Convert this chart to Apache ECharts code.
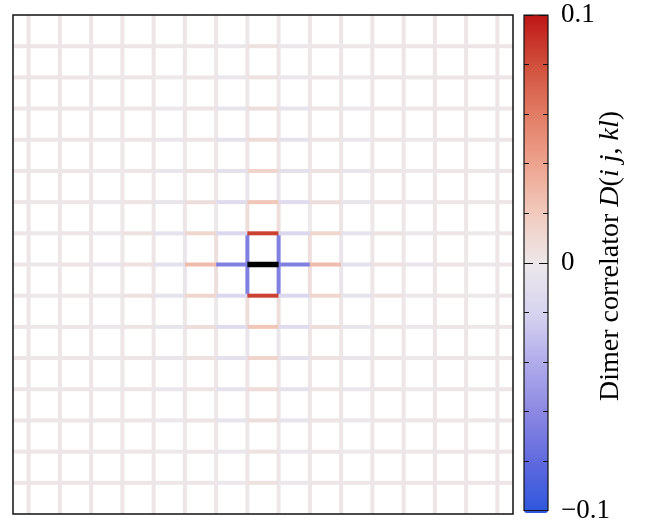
<!DOCTYPE html>
<html><head><meta charset="utf-8">
<script src="https://cdn.jsdelivr.net/npm/echarts@6/dist/echarts.min.js"></script>
<style>html,body{margin:0;padding:0;background:#fff}#c{width:646px;height:524px}</style>
</head><body><div id="c"></div>
<script>
// Horizontal bonds: rows 1..15 (y index), columns 0..15 (bond from site c to c+1, periodic)
const hRows = [1,2,3,4,5,6,7,8,9,10,11,12,13,14,15];
const hBonds = [
  [0.002,0.002,0.002,0.002,0.001,0.002,-0.001,0.004,-0.001,0.002,0.001,0.002,0.002,0.002,0.002,0.002],
  [0.002,0.002,0.001,0.002,0.000,0.002,-0.002,0.004,-0.002,0.002,0.000,0.002,0.001,0.002,0.002,0.002],
  [0.001,0.002,0.001,0.002,-0.001,0.003,-0.004,0.007,-0.004,0.003,-0.001,0.002,0.001,0.002,0.001,0.002],
  [0.001,0.002,0.000,0.002,-0.002,0.003,-0.006,0.009,-0.006,0.003,-0.002,0.002,0.000,0.002,0.001,0.002],
  [0.001,0.002,0.000,0.002,-0.003,0.004,-0.008,0.014,-0.008,0.004,-0.003,0.002,0.000,0.002,0.001,0.002],
  [0.001,0.002,-0.001,0.003,-0.004,0.007,-0.011,0.022,-0.011,0.007,-0.004,0.003,-0.001,0.002,0.001,0.002],
  [0.000,0.002,-0.001,0.004,-0.005,0.012,-0.016,0.085,-0.016,0.012,-0.005,0.004,-0.001,0.002,0.000,0.002],
  [-0.001,0.003,-0.003,0.005,-0.008,0.028,-0.065,null,-0.065,0.028,-0.008,0.005,-0.003,0.003,-0.001,0.002],
  [0.000,0.002,-0.001,0.004,-0.005,0.012,-0.016,0.085,-0.016,0.012,-0.005,0.004,-0.001,0.002,0.000,0.002],
  [0.001,0.002,-0.001,0.003,-0.004,0.007,-0.011,0.022,-0.011,0.007,-0.004,0.003,-0.001,0.002,0.001,0.002],
  [0.001,0.002,0.000,0.002,-0.003,0.004,-0.008,0.014,-0.008,0.004,-0.003,0.002,0.000,0.002,0.001,0.002],
  [0.001,0.002,0.000,0.002,-0.002,0.003,-0.006,0.009,-0.006,0.003,-0.002,0.002,0.000,0.002,0.001,0.002],
  [0.001,0.002,0.001,0.002,-0.001,0.003,-0.004,0.007,-0.004,0.003,-0.001,0.002,0.001,0.002,0.001,0.002],
  [0.002,0.002,0.001,0.002,0.000,0.002,-0.002,0.004,-0.002,0.002,0.000,0.002,0.001,0.002,0.002,0.002],
  [0.002,0.002,0.002,0.002,0.001,0.002,-0.001,0.004,-0.001,0.002,0.001,0.002,0.002,0.002,0.002,0.002]
];
// Vertical bonds: rows 0..15 (bond from row r to r+1), columns 0..15
const vBonds = [
  [0.002,0.002,0.002,0.002,0.002,0.002,0.002,0.001,0.001,0.002,0.002,0.002,0.002,0.002,0.002,0.002],
  [0.002,0.002,0.002,0.002,0.002,0.002,0.001,0.002,0.002,0.001,0.002,0.002,0.002,0.002,0.002,0.002],
  [0.002,0.002,0.002,0.002,0.002,0.001,0.002,0.001,0.001,0.002,0.001,0.002,0.002,0.002,0.002,0.002],
  [0.002,0.002,0.002,0.002,0.001,0.002,0.001,0.002,0.002,0.001,0.002,0.001,0.002,0.002,0.002,0.002],
  [0.002,0.002,0.002,0.001,0.002,0.001,0.002,0.002,0.002,0.002,0.001,0.002,0.001,0.002,0.002,0.002],
  [0.002,0.002,0.002,0.002,0.001,0.001,0.002,-0.003,-0.003,0.002,0.001,0.001,0.002,0.002,0.002,0.002],
  [0.002,0.002,0.002,0.001,0.001,0.002,0.000,0.007,0.007,0.000,0.002,0.001,0.001,0.002,0.002,0.002],
  [0.002,0.001,0.002,0.001,0.002,-0.003,0.006,-0.065,-0.065,0.006,-0.003,0.002,0.001,0.002,0.001,0.002],
  [0.002,0.001,0.002,0.001,0.002,-0.003,0.006,-0.065,-0.065,0.006,-0.003,0.002,0.001,0.002,0.001,0.002],
  [0.002,0.002,0.002,0.001,0.001,0.002,0.000,0.007,0.007,0.000,0.002,0.001,0.001,0.002,0.002,0.002],
  [0.002,0.002,0.002,0.002,0.001,0.001,0.002,-0.003,-0.003,0.002,0.001,0.001,0.002,0.002,0.002,0.002],
  [0.002,0.002,0.002,0.001,0.002,0.001,0.002,0.002,0.002,0.002,0.001,0.002,0.001,0.002,0.002,0.002],
  [0.002,0.002,0.002,0.002,0.001,0.002,0.001,0.002,0.002,0.001,0.002,0.001,0.002,0.002,0.002,0.002],
  [0.002,0.002,0.002,0.002,0.002,0.001,0.002,0.001,0.001,0.002,0.001,0.002,0.002,0.002,0.002,0.002],
  [0.002,0.002,0.002,0.002,0.002,0.002,0.001,0.002,0.002,0.001,0.002,0.002,0.002,0.002,0.002,0.002],
  [0.002,0.002,0.002,0.002,0.002,0.002,0.002,0.001,0.001,0.002,0.002,0.002,0.002,0.002,0.002,0.002]
];
// Reference bond (drawn black): horizontal, row 8, from column 7 to 8
const refBond = [7, 8];
const cbMin = -0.1, cbMax = 0.1;
const cbColors = ['#2d56dc','#5f69de','#8b87e2','#b0abea','#d6d3f0','#ede8ea','#f1cbbf','#eda48f','#e27c65','#d04f3b','#bd1515'];
const cbLabel = 'Dimer correlator ';

const nCols = 16, nRows = 16;
const bondData = [];
vBonds.forEach((row, r) => row.forEach((v, c) => {
  bondData.push([c + 0.5, r, c + 0.5, r + 1, v]);
}));
hBonds.forEach((row, i) => row.forEach((v, c) => {
  if (v === null) return;
  const r = hRows[i];
  bondData.push([c + 0.5, r, c + 1.5, r, v]);
  if (c === nCols - 1) bondData.push([-0.5, r, 0.5, r, v]);
}));
const refData = [[refBond[0] + 0.5, refBond[1], refBond[0] + 1.5, refBond[1], 0]];

function bondRender(width, color) {
  return function (params, api) {
    const p1 = api.coord([api.value(0), api.value(1)]);
    const p2 = api.coord([api.value(2), api.value(3)]);
    return {
      type: 'line',
      shape: {x1: p1[0], y1: p1[1], x2: p2[0], y2: p2[1]},
      style: {stroke: color || api.visual('color'), lineWidth: width, lineCap: 'butt'}
    };
  };
}

const serif = '"Liberation Serif", "Times New Roman", serif';
const chart = echarts.init(document.getElementById('c'), null, {renderer: 'canvas'});
chart.setOption({
  animation: false,
  backgroundColor: '#fff',
  grid: [
    {left: 13, top: 15, width: 500, height: 499, show: true, z: 10, backgroundColor: 'transparent', borderColor: '#111', borderWidth: 1.5},
    {left: 524, top: 15, width: 24, height: 498, show: true, z: 10, backgroundColor: 'transparent', borderColor: '#111', borderWidth: 1.2}
  ],
  xAxis: [
    {gridIndex: 0, type: 'value', min: 0, max: nCols, show: false},
    {gridIndex: 1, type: 'value', min: 0, max: 1, show: false}
  ],
  yAxis: [
    {gridIndex: 0, type: 'value', min: 0, max: nRows, inverse: true, show: false},
    {gridIndex: 1, type: 'value', min: cbMin, max: cbMax, interval: 0.02, position: 'left', z: 10,
      axisLine: {show: false}, splitLine: {show: false}, axisLabel: {show: false},
      axisTick: {show: true, inside: true, length: 5, lineStyle: {color: '#111', width: 1}}},
    {gridIndex: 1, type: 'value', min: cbMin, max: cbMax, interval: 0.02, position: 'right', z: 10,
      axisLine: {show: false}, splitLine: {show: false}, axisLabel: {show: false},
      axisTick: {show: true, inside: true, length: 5, lineStyle: {color: '#111', width: 1}}},
    {gridIndex: 1, type: 'value', min: cbMin, max: cbMax, interval: 0.1, position: 'left', z: 10,
      axisLine: {show: false}, splitLine: {show: false}, axisLabel: {show: false},
      axisTick: {show: true, inside: true, length: 9, lineStyle: {color: '#111', width: 1}}},
    {gridIndex: 1, type: 'value', min: cbMin, max: cbMax, interval: 0.1, position: 'right', z: 10,
      axisLine: {show: false}, splitLine: {show: false},
      axisTick: {show: true, inside: true, length: 9, lineStyle: {color: '#111', width: 1}},
      axisLabel: {show: true, margin: 13, color: '#000', fontFamily: serif, fontSize: 27,
        formatter: v => Math.abs(v) < 1e-9 ? '0' : (v > 0 ? '0.1' : '\u22120.1')}}
  ],
  visualMap: {
    type: 'continuous', min: cbMin, max: cbMax, dimension: 4, seriesIndex: 0,
    calculable: false, text: null, showLabel: false, padding: 0, z: 2,
    left: 524, top: 15, itemWidth: 24, itemHeight: 498,
    inRange: {color: cbColors}
  },
  graphic: [{
    type: 'text', x: 611, y: 256, rotation: Math.PI / 2, z: 20,
    style: {
      text: cbLabel + '{it|D}({it|i j}, {it|kl})',
      font: '28px ' + serif, fill: '#000', align: 'center', verticalAlign: 'middle',
      rich: {it: {fontStyle: 'italic', fontFamily: serif, fontSize: 28, fill: '#000'}}
    }
  }],
  series: [
    {type: 'custom', xAxisIndex: 0, yAxisIndex: 0, clip: true, z: 2,
      renderItem: bondRender(4), data: bondData, silent: true},
    {type: 'custom', xAxisIndex: 0, yAxisIndex: 0, clip: true, z: 3,
      renderItem: bondRender(5.5, '#000'), data: refData, silent: true}
  ]
});
</script>
</body></html>
